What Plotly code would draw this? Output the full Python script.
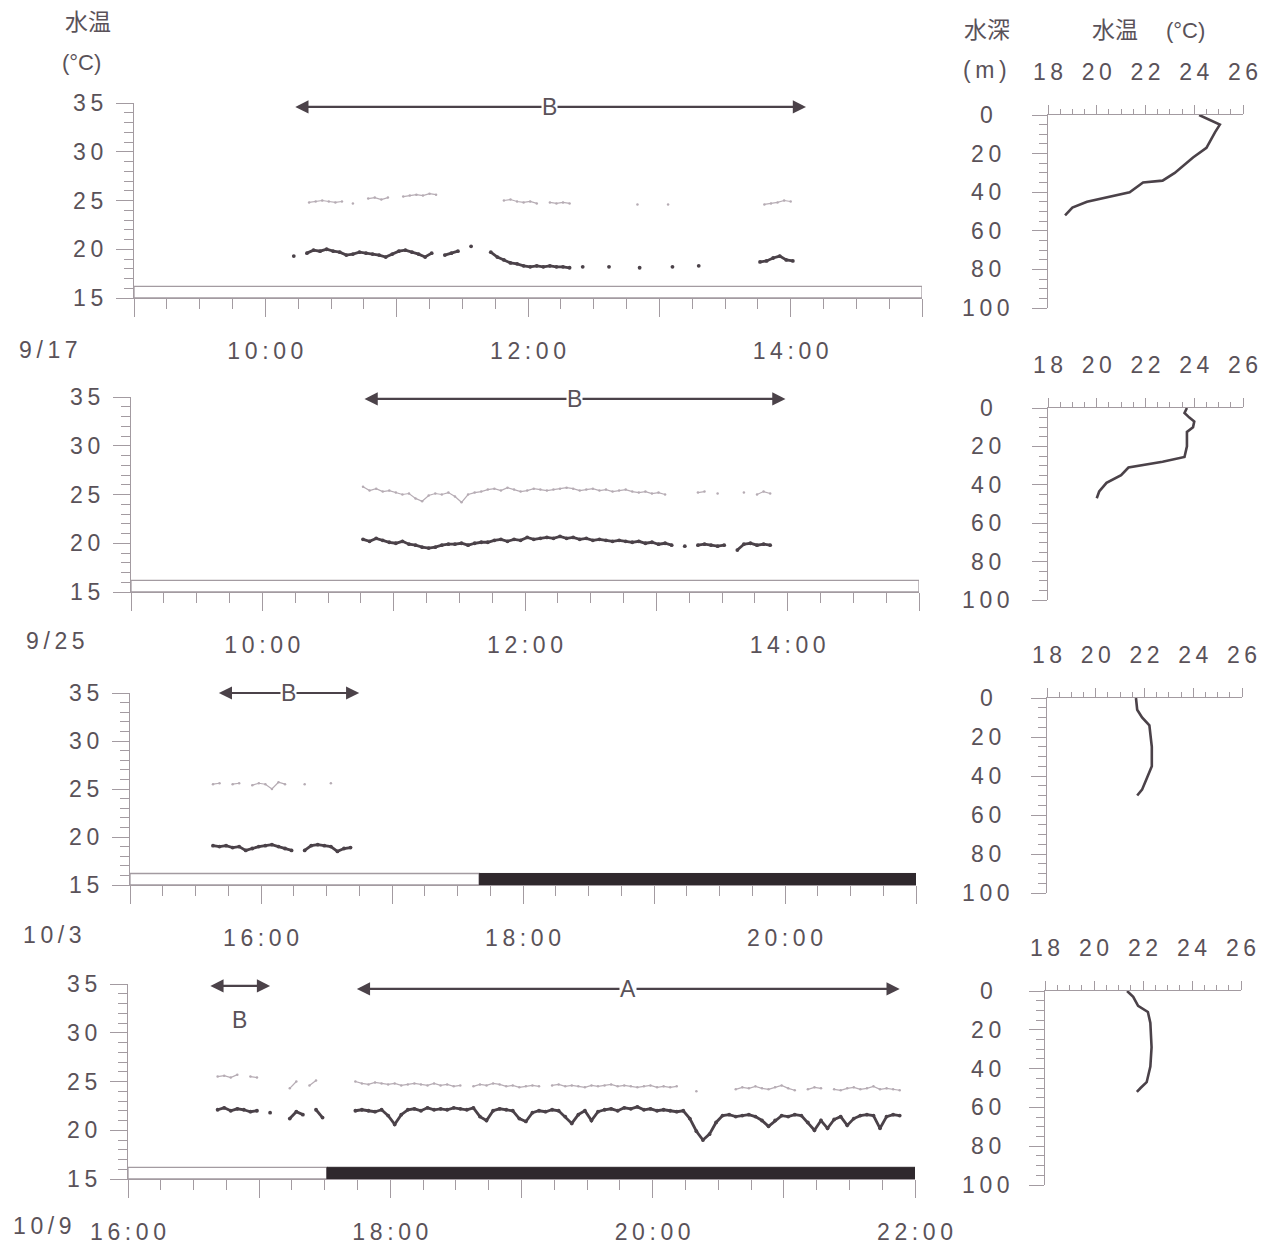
import plotly.graph_objects as go

# ---------------------------------------------------------------- data
STEP_MIN = 3  # logger records plotted every 3 minutes

DATES = ["9/17", "9/25", "10/3", "10/9"]
TIME_RANGES = [(9, 15), (9, 15), (15, 21), (16, 22)]
TIME_LABEL_HOURS = [[10, 12, 14], [10, 12, 14], [16, 18, 20], [16, 18, 20, 22]]
TEMP_TICKS = [15, 20, 25, 30, 35]
DEPTH_TICKS = [0, 20, 40, 60, 80, 100]
PROFILE_TEMP_TICKS = [18, 20, 22, 24, 26]

# lower (darker) temperature record, (start, values every STEP_MIN minutes)
LOW_0917 = [
    ("10:13", [19.3, None, 19.6, 19.9, 19.8, 20.0, 19.8, 19.7, 19.4, 19.5, 19.7, 19.6, 19.5,
               19.4, 19.2, 19.5, 19.8, 19.9, 19.7, 19.5, 19.2, 19.6, None, 19.4, 19.6, 19.8,
               None, 20.3]),
    ("11:43", [19.7, 19.2, 18.9, 18.6, 18.5, 18.3, 18.2, 18.3, 18.2, 18.3, 18.2, 18.2, 18.1,
               None, 18.2]),
    ("12:37", [18.2]), ("12:51", [18.1]), ("13:06", [18.2]), ("13:18", [18.3]),
    ("13:46", [18.7, 18.8, 19.1, 19.3, 18.9, 18.8]),
]
HIGH_0917 = [
    ("10:20", [24.8, 24.9, 25.0, 24.9, 24.8, 24.9]),
    ("10:40", [24.7]),
    ("10:47", [25.2, 25.3, 25.1, 25.3]),
    ("11:03", [25.4, 25.5, 25.6, 25.5, 25.7, 25.6]),
    ("11:49", [25.0, 25.1, 24.9, 24.8, 24.9, 24.7]),
    ("12:10", [24.8, 24.7, 24.8, 24.7]),
    ("12:50", [24.6]), ("13:04", [24.6]),
    ("13:48", [24.6, 24.7, 24.8, 25.0, 24.9]),
]
LOW_0925 = [
    ("10:46", [20.4, 20.2, 20.5, 20.3, 20.1, 20.0, 20.2, 19.9, 19.8, 19.6, 19.5, 19.6, 19.8,
               19.9, 19.9, 20.0, 19.8, 20.0, 20.1, 20.1, 20.3, 20.4, 20.2, 20.4, 20.3, 20.6,
               20.4, 20.5, 20.6, 20.5, 20.7, 20.5, 20.6, 20.4, 20.5, 20.3, 20.4, 20.3, 20.2,
               20.3, 20.2, 20.1, 20.2, 20.0, 20.1, 19.9, 20.0, 19.8, None, 19.7, None, 19.8,
               19.9, 19.8, 19.7, 19.8, None, 19.3, 19.9, 20.0, 19.8, 19.9, 19.8]),
]
HIGH_0925 = [
    ("10:46", [25.8, 25.4, 25.6, 25.3, 25.4, 25.2, 25.0, 25.1, 24.6, 24.3, 24.9, 25.1, 25.0,
               25.2, 24.8, 24.2, 25.0, 25.2, 25.3, 25.5, 25.6, 25.4, 25.7, 25.5, 25.3, 25.4,
               25.6, 25.5, 25.4, 25.5, 25.6, 25.7, 25.6, 25.4, 25.5, 25.6, 25.4, 25.5, 25.3,
               25.4, 25.5, 25.3, 25.2, 25.3, 25.1, 25.2, 25.0, None, None, None, None, 25.2,
               25.3, None, 25.1, None, None, None, 25.2, None, 25.0, 25.3, 25.1]),
]
LOW_1003 = [
    ("15:38", [19.1, 19.0, 19.1, 18.9, 19.0, 18.6, 18.8, 19.0, 19.1, 19.2, 19.0, 18.8, 18.6,
               None, 18.6, 19.1, 19.2, 19.1, 19.0, 18.5, 18.8, 18.9]),
]
HIGH_1003 = [
    ("15:38", [25.5, 25.6, None, 25.5, 25.6, None, 25.4, 25.6, 25.5, 25.0, 25.7, 25.5, None,
               None, 25.5, None, None, None, 25.6]),
]
LOW_1009 = [
    ("16:41", [22.1, 22.3, 22.0, 22.2, 22.1, 21.9, 22.0, None, 21.8]),
    ("17:14", [21.2, 21.9, 21.6, None, 22.1, 21.3]),
    ("17:44", [22.0, 22.1, 22.0, 21.9, 22.1, 21.5, 20.6, 21.6, 22.1, 22.2, 22.0, 22.3, 22.1,
               22.2, 22.1, 22.3, 22.2, 22.1, 22.3, 21.4, 21.0, 22.0, 22.2, 22.1, 22.0, 21.2,
               20.9, 21.8, 22.0, 21.9, 22.1, 22.0, 21.4, 20.7, 21.6, 22.0, 21.0, 21.9, 22.1,
               22.2, 22.0, 22.3, 22.2, 22.4, 22.1, 22.2, 22.0, 22.1, 22.0, 21.9, 22.0, 21.2,
               19.9, 19.0, 19.6, 20.8, 21.5, 21.6, 21.4, 21.5, 21.6, 21.4, 21.0, 20.4, 21.0,
               21.5, 21.4, 21.6, 21.5, 20.8, 20.0, 21.0, 20.2, 21.1, 21.4, 20.5, 21.2, 21.5,
               21.6, 21.5, 20.2, 21.4, 21.6, 21.5]),
]
HIGH_1009 = [
    ("16:41", [25.5, 25.6, 25.4, 25.7, None, 25.5, 25.4]),
    ("17:14", [24.3, 25.0, None, 24.6, 25.1]),
    ("17:44", [25.0, 24.8, 24.7, 24.9, 24.8, 24.7, 24.8, 24.6, 24.7, 24.8, 24.7, 24.6, 24.8,
               24.6, 24.7, 24.5, 24.6, None, 24.5, 24.7, 24.6, 24.8, 24.7, 24.5, 24.6, 24.4,
               24.5, 24.6, 24.5, None, 24.6, 24.7, 24.5, 24.6, 24.5, 24.4, 24.6, 24.5, 24.6,
               24.7, 24.5, 24.6, 24.5, 24.4, 24.5, 24.6, 24.4, 24.5, 24.4, 24.5]),
    ("20:20", [24.0]),
    ("20:38", [24.2, 24.4, 24.3, 24.5, 24.3, 24.2, 24.4, 24.6, 24.3, 24.1, None, 24.2, 24.4,
               24.3, None, 24.2, 24.1, 24.3, 24.4, 24.2, 24.3, 24.5, 24.2, 24.3, 24.2, 24.1]),
]
LOW_SERIES = [LOW_0917, LOW_0925, LOW_1003, LOW_1009]
HIGH_SERIES = [HIGH_0917, HIGH_0925, HIGH_1003, HIGH_1009]

# end of daylight (open bar) -> night (black bar); None = daylight throughout
DAYLIGHT_END = [None, None, "17:40", "17:31"]
BAR_TOP = 16.2

# behaviour periods: (label, start, end, arrow temperature level, label level)
PERIODS = [
    [("B", "10:13", "14:07", 34.6, None)],
    [("B", "10:46", "13:59", 34.8, None)],
    [("B", "15:40", "16:45", 35.0, None)],
    [("B", "16:37", "17:05", 34.8, 31.3), ("A", "17:44", "21:53", 34.5, None)],
]

# vertical temperature profiles (depth m, temperature degC)
PROFILE_DEPTH = [
    [0, 5, 9, 17, 22, 30, 34, 35, 40, 42.5, 45, 48, 52],
    [0, 2.6, 5, 7, 10, 12.5, 20, 25.5, 28, 29.7, 31, 35, 39, 43.5, 47],
    [0, 6, 10, 14, 25, 35, 41, 47, 50],
    [0, 3, 7.7, 10.8, 16.5, 29, 39, 47, 50, 52],
]
PROFILE_TEMP = [
    [24.2, 25.05, 24.85, 24.5, 23.95, 23.2, 22.7, 21.9, 21.35, 20.4, 19.6, 19.0, 18.7],
    [23.7, 23.6, 23.8, 24.0, 23.95, 23.7, 23.7, 23.6, 22.7, 21.9, 21.3, 21.0, 20.4, 20.1, 20.0],
    [21.65, 21.7, 21.9, 22.2, 22.3, 22.3, 22.1, 21.9, 21.7],
    [21.35, 21.6, 21.8, 22.2, 22.3, 22.35, 22.3, 22.15, 21.9, 21.75],
]

# ---------------------------------------------------------------- style
W, H = 1273, 1247
FONT = "Liberation Sans, Arial, sans-serif"
CJK = "Noto Sans CJK JP, sans-serif"
INK = "#5a5259"
AXIS = "#a39ba1"
DARK = "#4b4249"
LIGHT = "#b6acb4"
NIGHT = "#2f282d"
THIN = "\u2009"
TICK_SIZE = 23

# panel frames in pixels
TEMP_X_PX = [(134, 922), (131, 919), (130, 916), (128, 915)]
TEMP_Y_PX = [(298, 103), (592, 397), (885, 693), (1179, 984)]
PROF_X_PX = [(1048, 1243), (1048, 1243), (1047, 1242), (1045, 1241)]
PROF_Y_PX = [(308, 115), (600, 408), (893, 698), (1185, 991)]
DATE_POS = [(48, 350), (55, 641), (52, 935), (42, 1226)]
DEPTH_LABEL_X = 986


def fx(px):
    return px / W


def fy(py):
    return 1 - py / H


def spaced(s):
    return THIN.join(s)


def hours(hhmm):
    h, m = hhmm.split(":")
    return int(h) + int(m) / 60


def expand(segments):
    xs, ys = [], []
    for start, vals in segments:
        t0 = hours(start)
        for i, v in enumerate(vals):
            xs.append(t0 + i * STEP_MIN / 60)
            ys.append(v)
        xs.append(None)
        ys.append(None)
    return xs, ys


def ax_name(kind, n):
    return kind if n == 1 else f"{kind}{n}"


fig = go.Figure()
layout = dict(
    width=W, height=H, margin=dict(l=0, r=0, t=0, b=0, autoexpand=False),
    paper_bgcolor="white", plot_bgcolor="rgba(0,0,0,0)", showlegend=False,
    font=dict(family=FONT, color=INK, size=TICK_SIZE),
)
annotations = []
shapes = []

line_common = dict(showline=True, linecolor=AXIS, linewidth=1.3, tickcolor=AXIS,
                   tickwidth=1.3, showgrid=False, zeroline=False, fixedrange=True,
                   automargin=False)

for i in range(4):
    a, b, c = i + 1, i + 5, i + 9
    xa, ya = ax_name("x", a), ax_name("y", a)
    xb, yb = f"x{b}", f"y{b}"
    xc, yc = f"x{c}", f"y{c}"
    t0, t1 = TIME_RANGES[i]

    # ---- time-series panel
    hrs = list(range(t0, t1 + 1))
    layout[ax_name("xaxis", a)] = dict(
        domain=[fx(TEMP_X_PX[i][0]), fx(TEMP_X_PX[i][1])], range=[t0, t1], anchor=ya,
        ticks="outside", ticklen=18, tickvals=hrs,
        ticktext=[spaced(f"{h}:00") if h in TIME_LABEL_HOURS[i] else "" for h in hrs],
        ticklabelstandoff=14,
        minor=dict(dtick=0.25, tick0=0, ticks="outside", ticklen=10, tickcolor=AXIS,
                   tickwidth=1.3, showgrid=False),
        **line_common)
    layout[ax_name("yaxis", a)] = dict(
        domain=[fy(TEMP_Y_PX[i][0]), fy(TEMP_Y_PX[i][1])], range=[15, 35], anchor=xa,
        ticks="outside", ticklen=17, tickvals=TEMP_TICKS,
        ticktext=[spaced(str(v)) for v in TEMP_TICKS], ticklabelstandoff=8,
        minor=dict(dtick=1, tick0=0, ticks="outside", ticklen=9, tickcolor=AXIS,
                   tickwidth=1.3, showgrid=False),
        **line_common)

    # ---- depth scale on the right edge of the time-series panel
    xr = TEMP_X_PX[i][1]
    layout[f"xaxis{c}"] = dict(domain=[fx(xr), fx(xr + 12)], range=[0, 1], anchor=yc,
                               visible=False, fixedrange=True, automargin=False)
    layout[f"yaxis{c}"] = dict(
        domain=[fy(PROF_Y_PX[i][0]), fy(PROF_Y_PX[i][1])], range=[100, 0], anchor=xc,
        side="left", ticks="inside", ticklen=17, tickvals=DEPTH_TICKS, showticklabels=False,
        minor=dict(dtick=5, tick0=0, ticks="inside", ticklen=10, tickcolor=AXIS,
                   tickwidth=1.3, showgrid=False),
        **line_common)

    # ---- profile panel
    layout[f"xaxis{b}"] = dict(
        domain=[fx(PROF_X_PX[i][0]), fx(PROF_X_PX[i][1])], range=[18, 26], anchor=yb,
        side="top", ticks="outside", ticklen=9, tickvals=PROFILE_TEMP_TICKS,
        ticktext=[spaced(str(v)) for v in PROFILE_TEMP_TICKS], ticklabelstandoff=16,
        minor=dict(dtick=0.5, tick0=0, ticks="outside", ticklen=5, tickcolor=AXIS,
                   tickwidth=1.3, showgrid=False),
        **line_common)
    layout[f"yaxis{b}"] = dict(
        domain=[fy(PROF_Y_PX[i][0]), fy(PROF_Y_PX[i][1])], range=[100, 0], anchor=xb,
        ticks="outside", ticklen=15, tickvals=DEPTH_TICKS, showticklabels=False,
        minor=dict(dtick=5, tick0=0, ticks="outside", ticklen=8, tickcolor=AXIS,
                   tickwidth=1.3, showgrid=False),
        **line_common)

    # depth labels between the two depth scales
    for d in DEPTH_TICKS:
        annotations.append(dict(text=spaced(str(d)), x=fx(DEPTH_LABEL_X), xref="paper",
                                y=d, yref=yb, xanchor="center", yanchor="middle",
                                showarrow=False, font=dict(size=TICK_SIZE, color=INK)))

    # ---- records
    hx, hy = expand(HIGH_SERIES[i])
    fig.add_trace(go.Scatter(x=hx, y=hy, xaxis=xa, yaxis=ya, mode="lines+markers",
                             line=dict(color=LIGHT, width=1.2),
                             marker=dict(size=2.5, color=LIGHT), hoverinfo="skip"))
    lx, ly = expand(LOW_SERIES[i])
    fig.add_trace(go.Scatter(x=lx, y=ly, xaxis=xa, yaxis=ya, mode="lines+markers",
                             line=dict(color=DARK, width=2.8),
                             marker=dict(size=3.8, color=DARK), hoverinfo="skip"))
    fig.add_trace(go.Scatter(x=PROFILE_TEMP[i], y=PROFILE_DEPTH[i], xaxis=xb, yaxis=yb,
                             mode="lines", line=dict(color=DARK, width=2.6),
                             hoverinfo="skip"))

    # ---- daylight / night bar along the time axis
    if DAYLIGHT_END[i] is None:
        shapes.append(dict(type="rect", xref=xa, yref=ya, x0=t0, x1=t1, y0=15, y1=BAR_TOP,
                           line=dict(color=AXIS, width=1.3), fillcolor="white", layer="below"))
    else:
        te = hours(DAYLIGHT_END[i])
        shapes.append(dict(type="rect", xref=xa, yref=ya, x0=t0, x1=te, y0=15, y1=BAR_TOP,
                           line=dict(color=AXIS, width=1.3), fillcolor="white", layer="below"))
        shapes.append(dict(type="rect", xref=xa, yref=ya, x0=te, x1=t1, y0=15, y1=BAR_TOP,
                           line=dict(color=NIGHT, width=1), fillcolor=NIGHT, layer="above"))

    # ---- behaviour-period arrows
    for label, p0, p1, level, label_level in PERIODS[i]:
        s, e = hours(p0), hours(p1)
        annotations.append(dict(text="", x=e, y=level, ax=s, ay=level, xref=xa, yref=ya,
                                axref=xa, ayref=ya, showarrow=True, arrowhead=2,
                                startarrowhead=2, arrowside="end+start", arrowsize=1.2,
                                startarrowsize=1.2, arrowwidth=2.2, arrowcolor=DARK))
        annotations.append(dict(text=label, x=(s + e) / 2,
                                y=level if label_level is None else label_level,
                                xref=xa, yref=ya, showarrow=False,
                                bgcolor="white" if label_level is None else "rgba(0,0,0,0)",
                                borderpad=0, font=dict(size=23, color=INK)))

    # ---- date label
    dx, dy = DATE_POS[i]
    annotations.append(dict(text=spaced(DATES[i]), x=fx(dx), y=fy(dy), xref="paper",
                            yref="paper", xanchor="center", yanchor="middle",
                            showarrow=False, font=dict(size=TICK_SIZE, color=INK)))

# ---- headings
annotations += [
    dict(text="水温", x=fx(88), y=fy(20), font=dict(family=CJK, size=23, color=INK)),
    dict(text="(°C)", x=fx(81), y=fy(62), font=dict(size=22, color=INK)),
    dict(text="水深", x=fx(987), y=fy(28), font=dict(family=CJK, size=23, color=INK)),
    dict(text=spaced("(m)"), x=fx(985), y=fy(70), font=dict(size=23, color=INK)),
    dict(text="水温", x=fx(1115), y=fy(28), font=dict(family=CJK, size=23, color=INK)),
    dict(text="(°C)", x=fx(1185), y=fy(30), font=dict(size=22, color=INK)),
]
for ann in annotations[-6:]:
    ann.update(xref="paper", yref="paper", xanchor="center", yanchor="middle",
               showarrow=False)

layout["annotations"] = annotations
layout["shapes"] = shapes
fig.update_layout(**layout)
fig.write_html("out.html")
